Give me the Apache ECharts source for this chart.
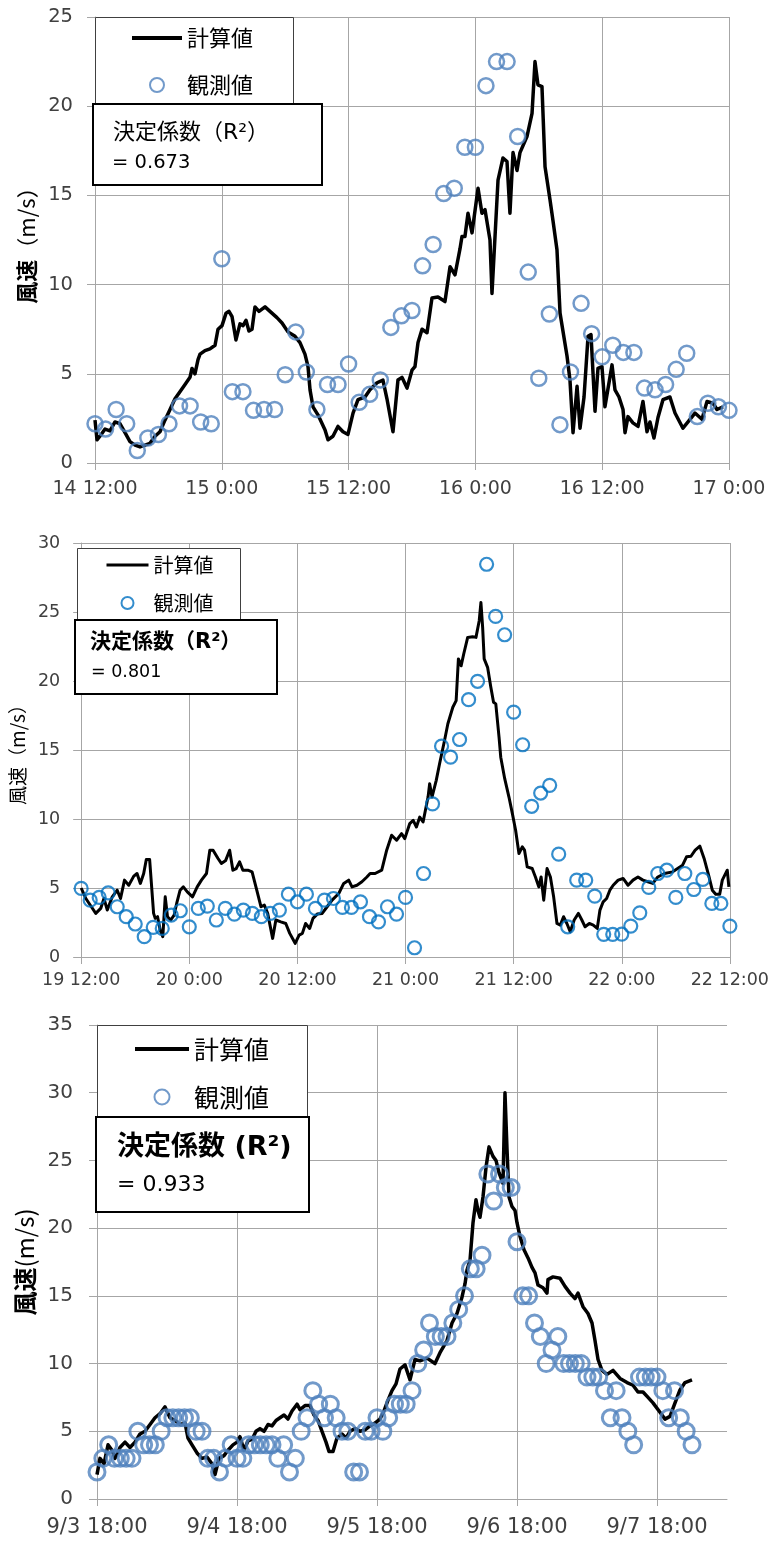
<!DOCTYPE html>
<html>
<head>
<meta charset="utf-8">
<script src="https://cdn.jsdelivr.net/npm/echarts@6/dist/echarts.min.js"></script>
<style>
  html, body { margin: 0; padding: 0; background: #fff; }
  #chart { width: 772px; height: 1548px; }
</style>
</head>
<body>
<div id="chart"></div>
<script>
// ---------- Panel 1: 14 12:00 – 17 0:00 (hours from 14 12:00) ----------
const ticks1 = ['14 12:00', '15 0:00', '15 12:00', '16 0:00', '16 12:00', '17 0:00'];
const calcHours1 = [0, 0.19, 0.47, 0.95, 1.42, 1.89, 2.37, 2.84, 3.31, 3.79, 4.26, 4.73, 5.2, 5.68, 6.15, 6.62, 7.1, 7.57, 8.04, 8.52, 8.99, 9.18, 9.46, 9.75, 9.94, 10.41, 10.88, 11.36, 11.64, 12.02, 12.4, 12.68, 12.97, 13.34, 13.72, 14.01, 14.29, 14.57, 14.86, 15.14, 15.52, 16.09, 16.56, 17.22, 17.7, 18.26, 18.93, 19.4, 19.87, 20.16, 20.35, 20.63, 21.1, 21.77, 22.05, 22.52, 22.99, 23.47, 23.94, 24.42, 24.89, 25.55, 26.02, 26.69, 27.25, 27.63, 28.2, 28.67, 29.05, 29.53, 30.0, 30.28, 30.57, 30.95, 31.42, 31.89, 32.46, 33.12, 33.6, 34.07, 34.54, 34.73, 35.01, 35.3, 35.68, 36.25, 36.62, 36.91, 37.38, 37.57, 38.14, 38.61, 38.99, 39.27, 39.56, 39.94, 40.22, 40.88, 41.36, 41.64, 41.92, 42.3, 42.59, 43.06, 43.34, 43.72, 44.01, 44.67, 44.95, 45.24, 45.62, 45.9, 46.28, 46.66, 46.94, 47.32, 47.6, 47.98, 48.26, 48.93, 49.21, 49.59, 49.97, 50.16, 50.44, 50.91, 51.39, 51.86, 52.24, 52.52, 52.9, 53.28, 53.75, 54.41, 54.89, 55.64, 56.12, 56.78, 57.44, 57.92, 58.49, 58.86, 59.43];
const calcValues1 = [2.4, 1.3, 1.5, 1.9, 1.8, 2.3, 2.2, 1.7, 1.2, 1.0, 0.9, 1.0, 1.1, 1.5, 1.75, 2.4, 3.0, 3.6, 4.0, 4.4, 4.8, 5.3, 5.0, 5.8, 6.1, 6.3, 6.4, 6.6, 7.5, 7.7, 8.4, 8.5, 8.2, 6.9, 7.8, 7.7, 8.0, 7.4, 7.5, 8.75, 8.5, 8.75, 8.5, 8.15, 7.85, 7.35, 7.1, 6.75, 6.1, 5.4, 4.1, 3.15, 2.7, 1.85, 1.3, 1.5, 2.05, 1.75, 1.6, 2.8, 3.55, 3.7, 4.1, 4.5, 4.65, 3.6, 1.75, 4.65, 4.8, 4.2, 5.2, 5.4, 6.75, 7.5, 7.3, 9.25, 9.3, 9.05, 11.0, 10.55, 12.0, 12.7, 12.7, 14.0, 12.9, 15.4, 14.0, 14.2, 12.5, 9.5, 15.85, 17.1, 16.9, 14.0, 17.4, 16.4, 17.4, 18.3, 19.6, 22.5, 21.2, 21.1, 16.6, 14.75, 13.6, 11.95, 8.4, 6.0, 4.65, 1.7, 4.3, 1.95, 3.7, 7.1, 7.2, 2.9, 5.3, 5.4, 3.15, 5.5, 4.1, 3.7, 3.0, 1.7, 2.6, 2.25, 2.05, 3.45, 1.75, 2.3, 1.4, 2.55, 3.55, 3.7, 2.8, 1.95, 2.3, 2.8, 2.45, 3.45, 3.35, 3.0, 3.15];
// hourly observations from 14 12:00
const obsValues1 = [2.2, 1.9, 3.0, 2.2, 0.7, 1.4, 1.6, 2.2, 3.2, 3.2, 2.3, 2.2, 11.45, 4.0, 4.0, 2.95, 3.0, 3.0, 4.95, 7.35, 5.1, 3.0, 4.4, 4.4, 5.55, 3.4, 3.85, 4.65, 7.6, 8.25, 8.55, 11.05, 12.25, 15.1, 15.4, 17.7, 17.7, 21.15, 22.5, 22.5, 18.3, 10.7, 4.75, 8.35, 2.15, 5.1, 8.95, 7.25, 5.95, 6.6, 6.2, 6.2, 4.2, 4.1, 4.4, 5.25, 6.15, 2.6, 3.35, 3.15, 2.95];

// ---------- Panel 2: 19 12:00 – 22 12:00 (hours from 19 12:00) ----------
const ticks2 = ['19 12:00', '20 0:00', '20 12:00', '21 0:00', '21 12:00', '22 0:00', '22 12:00'];
const calcHours2 = [0, 0.52, 1.13, 1.62, 2.17, 2.53, 2.9, 3.45, 4.0, 4.37, 4.81, 5.28, 5.84, 6.2, 6.57, 6.94, 7.23, 7.6, 8.04, 8.22, 8.48, 8.77, 9.06, 9.33, 9.58, 9.94, 10.32, 10.6, 10.98, 11.34, 11.78, 12.36, 12.88, 13.35, 13.91, 14.28, 14.64, 15.19, 15.56, 16.04, 16.48, 16.84, 17.21, 17.58, 17.95, 18.5, 18.97, 19.49, 19.96, 20.33, 20.7, 21.25, 21.61, 22.16, 22.71, 23.15, 23.75, 24.19, 24.55, 24.91, 25.36, 25.73, 26.2, 26.75, 27.3, 27.85, 28.59, 29.14, 29.69, 30.06, 30.61, 31.16, 31.71, 32.07, 32.62, 33.36, 33.91, 34.46, 35.01, 35.56, 35.92, 36.47, 36.85, 37.21, 37.58, 37.95, 38.5, 38.68, 38.94, 39.41, 39.78, 40.33, 40.7, 41.25, 41.62, 41.87, 42.17, 42.46, 42.9, 43.45, 43.82, 44.18, 44.37, 44.56, 44.73, 45.11, 45.47, 45.77, 46.02, 46.38, 46.57, 47.01, 47.48, 47.86, 48.22, 48.59, 48.96, 49.21, 49.51, 50.06, 50.42, 50.79, 51.05, 51.34, 51.71, 52.08, 52.44, 52.81, 53.18, 53.54, 53.91, 54.28, 54.72, 55.19, 55.57, 55.93, 56.4, 56.84, 57.28, 57.58, 57.94, 58.32, 58.68, 59.05, 59.6, 60.15, 60.7, 61.25, 61.8, 62.35, 62.9, 63.45, 64.0, 64.74, 65.65, 66.2, 66.75, 67.19, 67.68, 68.15, 68.67, 69.14, 69.69, 70.05, 70.43, 70.87, 71.16, 71.71, 71.89];
const calcValues2 = [5.0, 4.24, 3.64, 3.16, 3.52, 4.24, 3.4, 4.36, 4.84, 4.24, 5.57, 5.2, 5.86, 6.05, 5.33, 6.05, 7.06, 7.06, 3.16, 2.8, 2.92, 1.95, 1.47, 4.36, 2.92, 2.68, 3.04, 3.88, 4.84, 5.08, 4.72, 4.36, 5.08, 5.57, 6.05, 7.74, 7.74, 7.14, 6.78, 7.0, 7.74, 6.29, 6.41, 6.89, 6.29, 6.29, 6.17, 4.84, 3.64, 3.76, 3.16, 1.35, 2.68, 2.55, 2.43, 1.71, 0.99, 1.59, 1.71, 2.43, 2.07, 2.8, 3.11, 3.16, 3.64, 4.12, 4.6, 5.33, 5.57, 5.08, 5.2, 5.45, 5.8, 6.05, 6.05, 6.3, 7.74, 8.82, 8.46, 8.94, 8.58, 9.67, 9.9, 9.42, 10.14, 9.78, 11.59, 12.56, 11.59, 12.8, 14.0, 15.69, 16.9, 18.1, 18.58, 21.6, 21.1, 21.96, 23.16, 23.2, 23.16, 24.37, 25.69, 23.88, 21.6, 20.99, 19.55, 18.46, 18.34, 15.93, 14.48, 12.92, 11.59, 10.39, 9.18, 7.5, 7.98, 7.74, 6.53, 6.41, 5.8, 5.08, 5.8, 4.12, 6.41, 5.8, 4.36, 2.43, 2.31, 2.92, 2.43, 1.83, 2.68, 3.16, 2.68, 2.19, 2.43, 2.31, 2.07, 3.4, 4.0, 4.24, 4.84, 5.2, 5.57, 5.69, 5.2, 5.57, 5.8, 5.57, 5.45, 5.33, 5.8, 6.05, 6.17, 6.41, 6.65, 7.26, 7.3, 7.74, 8.03, 7.14, 5.8, 4.84, 4.55, 4.55, 5.57, 6.29, 5.08];
const obsValues2 = [4.97, 4.12, 4.32, 4.65, 3.64, 2.92, 2.39, 1.47, 2.15, 2.07, 3.04, 3.35, 2.19, 3.52, 3.69, 2.68, 3.52, 3.11, 3.4, 3.16, 2.92, 3.16, 3.4, 4.55, 4.0, 4.55, 3.52, 4.12, 4.24, 3.59, 3.59, 4.0, 2.92, 2.55, 3.64, 3.11, 4.32, 0.67, 6.05, 11.1, 15.28, 14.48, 15.76, 18.65, 19.98, 28.46, 24.68, 23.35, 17.74, 15.38, 10.92, 11.88, 12.44, 7.45, 2.19, 5.57, 5.57, 4.41, 1.64, 1.64, 1.66, 2.24, 3.2, 5.04, 6.05, 6.29, 4.32, 6.05, 4.89, 5.62, 3.88, 3.88, 2.24];

// ---------- Panel 3: 9/3 18:00 – 9/8 6:00 (hours from 9/3 18:00) ----------
const ticks3 = ['9/3 18:00', '9/4 18:00', '9/5 18:00', '9/6 18:00', '9/7 18:00'];
const calcHours3 = [0, 0.51, 1.2, 1.89, 2.57, 3.09, 3.94, 4.8, 5.66, 6.51, 7.37, 8.23, 9.09, 9.94, 10.8, 11.66, 12.51, 13.37, 14.23, 15.09, 15.6, 16.29, 17.14, 18.0, 18.86, 19.71, 20.23, 20.91, 21.77, 22.46, 23.31, 24.0, 24.51, 25.2, 25.89, 26.57, 27.26, 27.94, 28.63, 29.31, 30.0, 30.69, 31.37, 32.06, 32.74, 33.43, 34.29, 34.8, 35.66, 36.51, 37.2, 37.89, 38.57, 39.26, 39.77, 40.46, 41.14, 42.0, 42.69, 43.37, 44.23, 45.09, 45.94, 46.8, 47.66, 48.51, 49.2, 49.89, 50.57, 51.26, 51.94, 52.8, 53.66, 54.51, 55.37, 56.57, 57.94, 58.8, 60.0, 60.86, 61.71, 62.57, 63.09, 63.43, 63.94, 64.46, 64.97, 65.31, 65.66, 66.17, 66.69, 67.2, 67.89, 68.4, 68.91, 69.6, 69.94, 70.29, 70.63, 71.14, 71.66, 72.0, 72.51, 73.2, 73.89, 74.57, 75.09, 75.6, 76.46, 77.14, 77.31, 78.17, 79.37, 80.23, 81.09, 81.94, 82.46, 83.31, 84.17, 84.86, 85.37, 85.89, 86.57, 87.43, 88.46, 89.66, 90.86, 91.89, 92.74, 93.6, 94.46, 95.31, 96.51, 97.37, 98.23, 99.09, 99.94, 100.8, 102.0];
const calcValues3 = [1.8, 3.0, 2.6, 4.0, 3.6, 3.0, 3.8, 4.2, 3.8, 4.2, 4.8, 5.0, 5.5, 6.0, 6.3, 6.8, 6.0, 5.8, 5.5, 5.6, 4.5, 4.0, 3.4, 3.0, 3.1, 2.6, 1.8, 3.0, 3.2, 3.6, 4.0, 4.2, 4.6, 3.6, 4.3, 4.4, 5.0, 5.2, 5.0, 5.5, 5.4, 5.8, 6.0, 6.2, 5.9, 6.5, 7.0, 6.6, 6.9, 6.9, 6.2, 5.8, 5.0, 4.2, 3.5, 3.5, 4.5, 4.8, 4.5, 5.0, 5.2, 5.0, 5.1, 5.4, 5.6, 5.9, 6.5, 7.3, 8.0, 8.5, 9.6, 9.9, 8.8, 10.3, 10.2, 10.4, 10.0, 10.8, 11.7, 13.0, 13.7, 14.9, 15.9, 16.9, 17.6, 20.4, 22.1, 21.3, 20.8, 22.3, 24.5, 26.0, 25.3, 25.0, 24.1, 23.3, 30.0, 25.8, 22.3, 21.6, 21.3, 20.4, 19.4, 18.4, 17.8, 17.1, 16.7, 15.8, 15.6, 15.2, 16.2, 16.4, 16.3, 15.7, 15.2, 14.8, 15.2, 14.2, 13.7, 13.0, 11.7, 10.3, 9.5, 9.2, 9.5, 8.9, 8.6, 8.4, 7.9, 7.9, 7.5, 7.1, 6.4, 5.9, 6.1, 7.1, 8.05, 8.6, 8.8];
const obsValues3 = [2, 3, 4, 3, 3, 3, 3, 5, 4, 4, 4, 5, 6, 6, 6, 6, 6, 5, 5, 3, 3, 2, 3, 4, 3, 3, 4, 4, 4, 4, 4, 3, 4, 2, 3, 5, 6, 8, 7, 6, 7, 6, 5, 5, 2, 2, 5, 5, 6, 5, 6, 7, 7, 7, 8, 10, 11, 13, 12, 12, 12, 13, 14, 15, 17, 17, 18, 24, 22, 24, 23, 23, 19, 15, 15, 13, 12, 10, 11, 12, 10, 10, 10, 10, 9, 9, 9, 8, 6, 8, 6, 5, 4, 9, 9, 9, 9, 8, 6, 8, 6, 5, 4];

const r2Values = ['0.673', '0.801', '0.933'];
const seriesNames = ['計算値', '観測値'];

// ---------- styling ----------
const FONT = '"Noto Sans CJK JP", "Noto Sans", sans-serif';
const NUMFONT = '"DejaVu Sans", "Noto Sans CJK JP", sans-serif';
const GRID = '#a6a6a6';
const LABEL = '#404040';

const pairs = (xs, ys) => xs.map((x, i) => [x, ys[i]]);
const hourly = (ys) => ys.map((y, i) => [i, y]);

function xAxisOf(idx, max, labels, step, fontSize, margin, labelEvery) {
  const labelVals = [];
  for (let v = 0; v <= max; v += labelEvery) labelVals.push(v);
  return {
    type: 'value', gridIndex: idx, min: 0, max: max, interval: step,
    axisLine: { show: true, onZero: false, lineStyle: { color: GRID, width: 1 } },
    axisTick: { show: true, length: 7, inside: false, lineStyle: { color: GRID }, customValues: labelVals },
    splitLine: { show: true, lineStyle: { color: GRID, width: 1 } },
    axisLabel: {
      fontFamily: NUMFONT, fontSize: fontSize, color: LABEL, margin: margin,
      customValues: labelVals,
      formatter: (v) => (v % labelEvery === 0 ? labels[v / labelEvery] : '')
    }
  };
}

function yAxisOf(idx, max, fontSize, margin, name, rich, gap) {
  return {
    type: 'value', gridIndex: idx, min: 0, max: max, interval: 5,
    axisLine: { show: true, lineStyle: { color: GRID, width: 1 } },
    axisTick: { show: true, length: 8, lineStyle: { color: GRID } },
    splitLine: { show: true, lineStyle: { color: GRID, width: 1 } },
    axisLabel: { fontFamily: NUMFONT, fontSize: fontSize, color: LABEL, margin: margin },
    name: name, nameLocation: 'middle', nameRotate: 90, nameGap: gap,
    nameTextStyle: { fontFamily: FONT, color: '#000', rich: rich }
  };
}

function calcSeries(idx, data, width) {
  return {
    name: seriesNames[0], type: 'line', xAxisIndex: idx, yAxisIndex: idx,
    data: data, symbol: 'none', showSymbol: false, smooth: false,
    lineStyle: { color: '#000', width: width, join: 'round' },
    itemStyle: { color: '#000' }, z: 2
  };
}

function obsSeries(idx, data, color, size, border) {
  return {
    name: seriesNames[1], type: 'scatter', xAxisIndex: idx, yAxisIndex: idx,
    data: data, symbol: 'circle', symbolSize: size,
    itemStyle: { color: 'rgba(255,255,255,0)', borderColor: color, borderWidth: border },
    z: 3
  };
}

function legendOf(left, top, iw, ih, gap, fontSize, lh, color, lw) {
  return {
    left: left, top: top, orient: 'vertical', padding: 0,
    itemWidth: iw, itemHeight: ih, itemGap: gap, selectedMode: false, z: 30,
    textStyle: { fontFamily: FONT, fontSize: fontSize, lineHeight: lh, color: '#000' },
    data: [
      // plain line key, no marker on it
      { name: seriesNames[0], lineStyle: { color: '#000', width: lw },
        itemStyle: { opacity: 0, color: 'rgba(0,0,0,0)', borderWidth: 0 } },
      { name: seriesNames[1], icon: 'circle', itemStyle: { color: '#fff', borderColor: color, borderWidth: 2 } }
    ]
  };
}

function boxRect(x, y, w, h, lw, stroke) {
  return { type: 'rect', z: 20, shape: { x: x, y: y, width: w, height: h },
           style: { fill: '#fff', stroke: stroke, lineWidth: lw } };
}
function boxText(x, y, text, font) {
  return { type: 'text', z: 21, x: x, y: y,
           style: { text: text, font: font, fill: '#000', verticalAlign: 'middle', align: 'left' } };
}

const BLUE = '#4f81bd';
const BLUE2 = '#0070c0';

const option = {
  animation: false,
  backgroundColor: '#fff',
  grid: [
    { left: 95, top: 17, width: 634, height: 446 },
    { left: 77, top: 543, width: 654, height: 414 },
    { left: 97, top: 1025, width: 630, height: 474 }
  ],
  xAxis: [
    xAxisOf(0, 60, ticks1, 12, 19, 17, 12),
    xAxisOf(1, 72, ticks2, 12, 17.5, 15, 12),
    xAxisOf(2, 108, ticks3, 12, 21, 18, 24)
  ],
  yAxis: [
    yAxisOf(0, 25, 19.5, 22, '{b|風速}{n|（m/s）}',
      { b: { fontFamily: FONT, fontSize: 22, fontWeight: 'bold' }, n: { fontFamily: FONT, fontSize: 22 } }, 50),
    yAxisOf(1, 30, 17.5, 21, '{n|風速（m/s）}',
      { n: { fontFamily: FONT, fontSize: 19 } }, 47),
    yAxisOf(2, 35, 20, 24, '{b|風速}{n|(m/s)}',
      { b: { fontFamily: FONT, fontSize: 24, fontWeight: 'bold' }, n: { fontFamily: FONT, fontSize: 24 } }, 53)
  ],
  legend: [
    legendOf(130, 25, 50, 14, 21, 22, 26, BLUE, 4),
    legendOf(105, 553, 42, 12, 14, 20, 24, BLUE2, 3),
    legendOf(133, 1035, 54, 15, 20, 25, 28, BLUE, 4)
  ],
  graphic: [
    boxRect(95.5, 17.5, 198, 86, 1, '#404040'),
    boxRect(93, 104, 229, 81, 2, '#000'),
    boxText(113, 133, '決定係数（R²）', '22px ' + NUMFONT),
    boxText(112, 163, '= ' + r2Values[0], '19.5px ' + NUMFONT),

    boxRect(77.5, 548.5, 163, 72, 1, '#404040'),
    boxRect(75, 620, 202, 74, 2, '#000'),
    boxText(90, 643, '決定係数（R²）', 'bold 21px ' + NUMFONT),
    boxText(91, 672, '= ' + r2Values[1], '17.5px ' + NUMFONT),

    boxRect(97.5, 1025.5, 210, 92, 1, '#404040'),
    boxRect(96, 1117, 213, 95, 2, '#000'),
    boxText(117, 1148, '決定係数 (R²)', 'bold 27px ' + NUMFONT),
    boxText(117, 1185, '= ' + r2Values[2], '22px ' + NUMFONT)
  ],
  series: [
    calcSeries(0, pairs(calcHours1, calcValues1), 3.5),
    obsSeries(0, hourly(obsValues1), BLUE, 15, 2.5),
    calcSeries(1, pairs(calcHours2, calcValues2), 3),
    obsSeries(1, hourly(obsValues2), BLUE2, 13, 2.2),
    calcSeries(2, pairs(calcHours3, calcValues3), 3.5),
    obsSeries(2, hourly(obsValues3), BLUE, 16, 3)
  ]
};

const chart = echarts.init(document.getElementById('chart'), null, { renderer: 'canvas' });
chart.setOption(option);
</script>
</body>
</html>
